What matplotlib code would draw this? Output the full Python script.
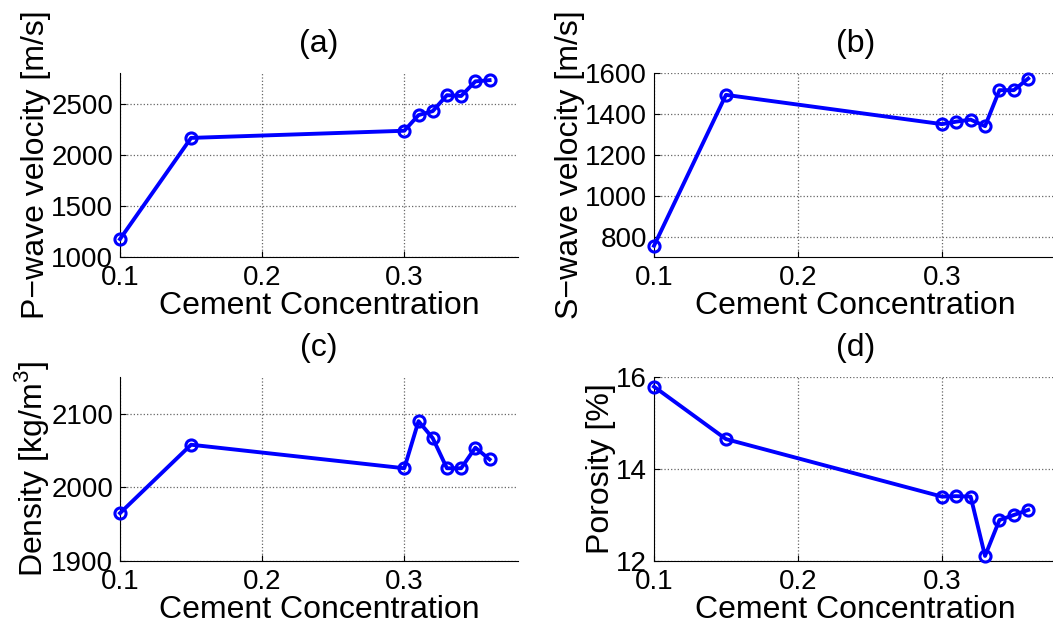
import numpy as np
import matplotlib
matplotlib.use('Agg')
import matplotlib.pyplot as plt

# cement concentration (shared x values)
cement = [0.1, 0.15, 0.3, 0.31, 0.32, 0.33, 0.34, 0.35, 0.36]

# measured properties
p_velocity = [1175, 2165, 2235, 2388, 2427, 2583, 2575, 2718, 2730]
s_velocity = [755, 1493, 1350, 1362, 1372, 1340, 1516, 1516, 1573]
density = [1965, 2058, 2026, 2090, 2067, 2026, 2026, 2054, 2038]
porosity = [15.79, 14.65, 13.40, 13.41, 13.40, 12.11, 12.89, 13.00, 13.11]

panels = [
    ('(a)', p_velocity, 'P\u2212wave velocity [m/s]', (1000, 2800), [1000, 1500, 2000, 2500]),
    ('(b)', s_velocity, 'S\u2212wave velocity [m/s]', (700, 1600), [800, 1000, 1200, 1400, 1600]),
    ('(c)', density, 'Density [kg/m$^3$]', (1900, 2150), [1900, 2000, 2100]),
    ('(d)', porosity, 'Porosity [%]', (12, 16), [12, 14, 16]),
]

plt.rcParams['font.family'] = ['Liberation Sans', 'DejaVu Sans']
plt.rcParams['mathtext.fontset'] = 'custom'
plt.rcParams['mathtext.rm'] = 'Liberation Sans'

W, H = 1053, 626
fig = plt.figure(figsize=(W / 100, H / 100), dpi=100)

# axes boxes in pixels: left, top, width, height
boxes = [(120, 73, 398, 184), (654, 73, 403, 184),
         (120, 377, 398, 184), (654, 377, 403, 184)]

for (title, vals, ylab, ylim, yticks), (l, t, w, h) in zip(panels, boxes):
    ax = fig.add_axes([l / W, (H - t - h) / H, w / W, h / H])
    ax.plot(cement, vals, '-o', color='blue', lw=2.8, ms=8,
            mfc='none', mec='blue', mew=2.2, clip_on=False, zorder=3)
    ax.set_xlim(0.1, 0.38)
    ax.set_ylim(*ylim)
    ax.set_xticks([0.1, 0.2, 0.3])
    ax.set_yticks(yticks)
    ax.grid(True, ls=':', color='#666666', lw=0.9)
    for s in ['top', 'right']:
        ax.spines[s].set_visible(False)
    ax.tick_params(direction='in', length=4, labelsize=20)
    ax.tick_params(axis='x', pad=6)
    ax.tick_params(axis='y', pad=5)
    ax.set_title(title, fontsize=23, pad=15)
    ax.set_xlabel('Cement Concentration', fontsize=23, labelpad=0)
    ax.set_ylabel(ylab, fontsize=23, labelpad=0)

fig.savefig('out.png', dpi=100)
